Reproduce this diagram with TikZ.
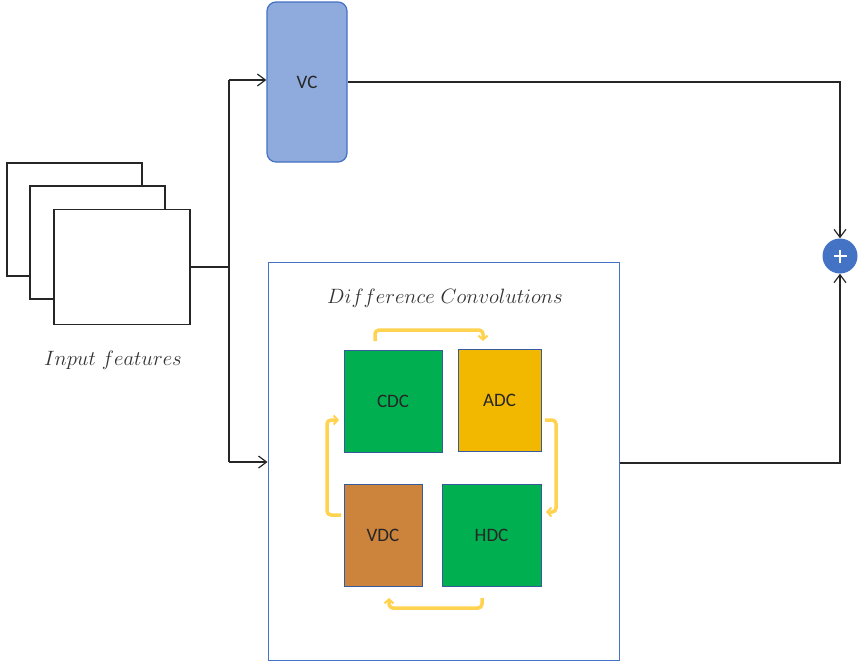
\documentclass[tikz,border=0pt]{standalone}
\usepackage{fontspec}
\setsansfont{Carlito}
\usetikzlibrary{arrows.meta}
\definecolor{vcfill}{HTML}{8FAADC}
\definecolor{blueline}{HTML}{4472C4}
\definecolor{dgreen}{HTML}{00B050}
\definecolor{dyellow}{HTML}{F2B800}
\definecolor{dbrown}{HTML}{CC843C}
\definecolor{arrowyel}{HTML}{FFD34F}
\begin{document}
\begin{tikzpicture}[x=1pt,y=-1pt,
  blk/.style={line width=1.4pt,draw=black!85},
  fmap/.style={draw=black!85,line width=1.6pt,fill=white},
  conv/.style={draw=blueline!80!black,line width=0.8pt,font=\sffamily\fontsize{19}{21}\selectfont,text=black!85},
  tipb/.style={-{Straight Barb[length=8pt,width=12pt,line width=1.2pt]}},
  cyc/.style={draw=arrowyel,line width=3.5pt,rounded corners=4pt,-{Straight Barb[length=4pt,width=9pt,line width=2pt]}},
  lbl/.style={font=\fontsize{20}{23}\selectfont,text=black!80}]
\useasboundingbox (0,0) rectangle (858,665);
% input features
\draw[fmap] (7,163) rectangle (142,276);
\draw[fmap] (30,186) rectangle (165,299);
\node[fmap,minimum width=136pt,minimum height=115pt,inner sep=0pt] (feat) at (122,267) {};
\node[lbl] (inlab) at (113,360) {$Input\ features$};
% VC
\node[draw=blueline,fill=vcfill,line width=1.2pt,rounded corners=9pt,minimum width=80pt,minimum height=160pt,inner sep=0pt,font=\sffamily\fontsize{19}{21}\selectfont,text=black!85] (vc) at (307,82) {VC};
% DC box
\node[draw=blueline,line width=1pt,minimum width=351pt,minimum height=398pt,inner sep=0pt] (dc) at (443.5,461) {};
\node[lbl] (dclab) at (445,298) {$Difference\ Convolutions$};
\node[conv,fill=dgreen,minimum width=98pt,minimum height=102pt,inner sep=0pt] (cdc) at (393,401) {CDC};
\node[conv,fill=dyellow,minimum width=83pt,minimum height=102pt,inner sep=0pt] (adc) at (499.5,400) {ADC};
\node[conv,fill=dbrown,minimum width=78pt,minimum height=102pt,inner sep=0pt] (vdc) at (383,535) {VDC};
\node[conv,fill=dgreen,minimum width=99pt,minimum height=102pt,inner sep=0pt] (hdc) at (491.5,535) {HDC};
% plus
\node[circle,fill=blueline,minimum size=35pt,inner sep=0pt] (plus) at (840,256) {};
\draw[white,line width=2.2pt] (plus.center) ++(-6.5,0) -- ++(13,0) (plus.center) ++(0,-6.5) -- ++(0,13);
% junction
\coordinate (j) at (229,267);
\coordinate (jt) at (229,80);
\coordinate (jb) at (229,462);
\draw[blk] (feat.east) -- (j);
\draw[blk] (jt) -- (jb);
\draw[blk,tipb] (jt) -- (vc.west |- jt);
\draw[blk,tipb] (jb) -- (dc.west |- jb);
% to plus
\coordinate (c1) at (840,82);
\coordinate (c2) at (840,463);
\draw[blk,tipb] (vc.east) -- (c1) -- (plus.north);
\draw[blk,tipb] (dc.east |- c2) -- (c2) -- (plus.south);
% cycle arrows
\draw[cyc] (375,341) -- (375,330) -- (483,330) -- (483,341);
\draw[cyc] (545,420) -- (556,420) -- (556,512) -- (546,512);
\draw[cyc] (482,598) -- (482,608) -- (389,608) -- (389,598);
\draw[cyc] (341,515) -- (327,515) -- (327,420) -- (339,420);
\end{tikzpicture}
\end{document}
